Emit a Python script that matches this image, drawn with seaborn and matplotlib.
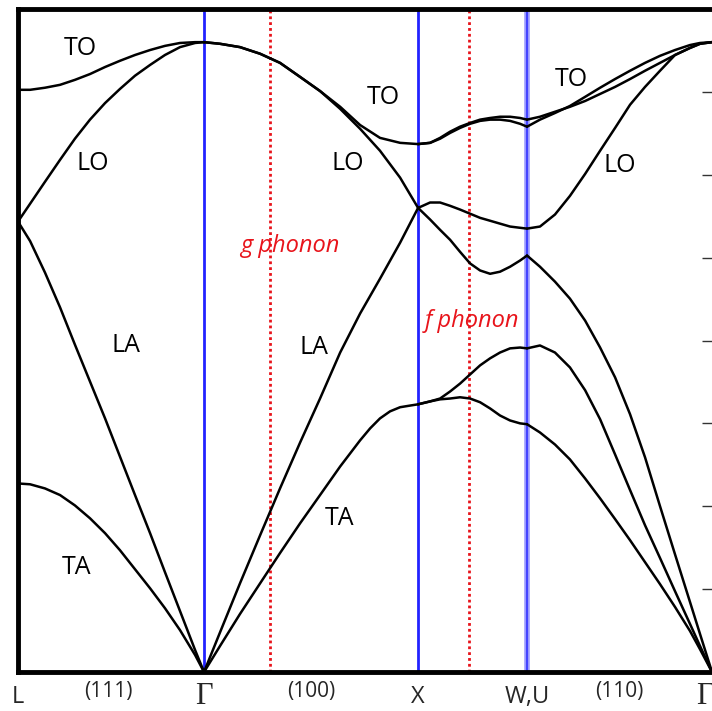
import numpy as np
import pandas as pd
import seaborn as sns
import matplotlib.pyplot as plt
import matplotlib.transforms as mtransforms

sns.set_theme(style="white")
plt.rcParams["font.family"] = ["Open Sans", "DejaVu Sans"]

# High-symmetry path of the diamond lattice and relative segment lengths
sym_points = ["L", "Γ", "X", "W,U", "Γ"]
direction_labels = ["(111)", "(100)", "(110)"]
seg_len = [0.869, 1.0, 0.509, 0.864]

# ---- L -> Γ : fraction along the segment and branch frequencies (THz) ----
t_LG = [0, 0.065, 0.145, 0.226, 0.306, 0.387, 0.468, 0.548, 0.629, 0.710,
        0.790, 0.871, 0.952, 1]
TO_LG = [14.05, 14.05, 14.10, 14.17, 14.29, 14.43, 14.60, 14.75, 14.89, 15.01,
         15.11, 15.18, 15.20, 15.20]
LO_LG = [10.87, 11.30, 11.83, 12.36, 12.87, 13.33, 13.73, 14.07, 14.39, 14.65,
         14.89, 15.08, 15.18, 15.20]
LA_LG = [10.87, 10.40, 9.64, 8.80, 7.90, 7.01, 6.12, 5.20, 4.27, 3.35,
         2.41, 1.47, 0.53, 0]
TA_LG = [4.55, 4.53, 4.43, 4.27, 4.02, 3.71, 3.35, 2.94, 2.48, 2.02,
         1.54, 1.01, 0.41, 0]

# ---- Γ -> X ----
t_GX = [0, 0.075, 0.168, 0.262, 0.355, 0.449, 0.542, 0.636, 0.729, 0.822,
        0.916, 1]
TO_GX = [15.20, 15.16, 15.08, 14.92, 14.70, 14.36, 14.02, 13.64, 13.20, 12.89,
         12.77, 12.74]
LO_GX = [15.20, 15.16, 15.08, 14.92, 14.70, 14.36, 14.02, 13.59, 13.11, 12.58,
         11.93, 11.20]
LA_GX = [0, 0.96, 2.14, 3.30, 4.43, 5.54, 6.60, 7.71, 8.65, 9.49, 10.36, 11.20]
t_GX_TA = [0, 0.075, 0.168, 0.262, 0.355, 0.449, 0.542, 0.636, 0.729, 0.776,
           0.822, 0.869, 0.916, 0.963, 1]
TA_GX = [0, 0.63, 1.40, 2.14, 2.87, 3.59, 4.27, 4.96, 5.59, 5.88,
         6.12, 6.29, 6.39, 6.43, 6.46]

# ---- X -> W ----
t_XW = [0, 0.110, 0.202, 0.294, 0.385, 0.477, 0.569, 0.661, 0.752, 0.844,
        0.936, 1]
TO1_XW = [12.74, 12.77, 12.89, 13.04, 13.16, 13.25, 13.33, 13.37, 13.40, 13.40,
          13.37, 13.33]
TO2_XW = [12.74, 12.77, 12.87, 13.01, 13.13, 13.23, 13.30, 13.33, 13.33, 13.30,
          13.23, 13.16]
LO_XW = [11.20, 11.33, 11.33, 11.25, 11.16, 11.06, 10.96, 10.89, 10.82, 10.75,
         10.72, 10.70]
LA_XW = [11.20, 10.92, 10.67, 10.43, 10.14, 9.86, 9.69, 9.61, 9.66, 9.78,
         9.93, 10.05]
TA1_XW = [6.46, 6.53, 6.60, 6.77, 6.96, 7.18, 7.40, 7.57, 7.71, 7.81,
          7.83, 7.81]
TA2_XW = [6.46, 6.53, 6.58, 6.60, 6.63, 6.60, 6.51, 6.36, 6.19, 6.07,
          6.00, 5.98]

# ---- W -> Γ ----
t_WG = [0, 0.070, 0.151, 0.232, 0.314, 0.395, 0.476, 0.557, 0.638, 0.719,
        0.800, 0.881, 0.935, 1]
TO1_WG = [13.33, 13.40, 13.52, 13.64, 13.78, 13.95, 14.12, 14.31, 14.51, 14.70,
          14.89, 15.06, 15.16, 15.20]
TO2_WG = [13.16, 13.33, 13.49, 13.66, 13.88, 14.10, 14.31, 14.51, 14.70, 14.87,
          15.01, 15.13, 15.18, 15.20]
LO_WG = [10.70, 10.75, 11.04, 11.49, 12.02, 12.58, 13.13, 13.69, 14.12, 14.51,
         14.89, 15.06, 15.16, 15.20]
LA_WG = [10.05, 9.78, 9.42, 9.01, 8.48, 7.83, 7.11, 6.22, 5.18, 4.00,
         2.84, 1.69, 0.92, 0]
TA1_WG = [7.81, 7.88, 7.71, 7.35, 6.80, 6.10, 5.25, 4.39, 3.54, 2.75,
          1.95, 1.16, 0.63, 0]
TA2_WG = [5.98, 5.78, 5.49, 5.13, 4.67, 4.19, 3.69, 3.18, 2.65, 2.12,
          1.57, 0.99, 0.55, 0]

# (segment index, branch name, fractions, frequencies)
branches = [
    (0, "TO", t_LG, TO_LG), (0, "LO", t_LG, LO_LG),
    (0, "LA", t_LG, LA_LG), (0, "TA", t_LG, TA_LG),
    (1, "TO", t_GX, TO_GX), (1, "LO", t_GX, LO_GX),
    (1, "LA", t_GX, LA_GX), (1, "TA", t_GX_TA, TA_GX),
    (2, "TO1", t_XW, TO1_XW), (2, "TO2", t_XW, TO2_XW),
    (2, "LO", t_XW, LO_XW), (2, "LA", t_XW, LA_XW),
    (2, "TA1", t_XW, TA1_XW), (2, "TA2", t_XW, TA2_XW),
    (3, "TO1", t_WG, TO1_WG), (3, "TO2", t_WG, TO2_WG),
    (3, "LO", t_WG, LO_WG), (3, "LA", t_WG, LA_WG),
    (3, "TA1", t_WG, TA1_WG), (3, "TA2", t_WG, TA2_WG),
]

bounds = np.concatenate([[0.0], np.cumsum(seg_len)])

frames = []
for seg, name, t, f in branches:
    k = bounds[seg] + np.asarray(t) * seg_len[seg]
    frames.append(pd.DataFrame({"k": k, "freq": f, "branch": f"{seg}-{name}"}))
df = pd.concat(frames, ignore_index=True)

fig = plt.figure(figsize=(7.12, 7.11), dpi=100)
ax = fig.add_axes([18 / 712, 39 / 711, 1 - 18 / 712, 663 / 711])

# high-symmetry point markers
ax.axvline(bounds[1], color="#2222ff", lw=2.0, zorder=1)
ax.axvline(bounds[2], color="#2222ff", lw=2.0, zorder=1)
ax.axvline(bounds[3], color="#9a9aff", lw=4.0, zorder=1)
ax.axvline(bounds[3], color="#3333ff", lw=1.2, zorder=1)

# umklapp phonon positions
g_pos = bounds[1] + 0.308 * seg_len[1]
f_pos = bounds[2] + 0.468 * seg_len[2]
for xp in (g_pos, f_pos):
    ax.axvline(xp, color="#e8141b", lw=2.0, linestyle=(0, (1, 1.1)), zorder=1)

sns.lineplot(data=df, x="k", y="freq", units="branch", estimator=None,
             sort=False, color="black", lw=1.8, ax=ax, legend=False, zorder=3)

ax.set_xlim(0, bounds[-1])
ax.set_ylim(0, 16)
ax.set_xlabel("")
ax.set_ylabel("")
ax.set_xticks([])
ax.yaxis.tick_right()
ax.set_yticks(np.arange(0, 17, 2))
ax.tick_params(axis="y", direction="in", length=7, width=1.0, colors="#333333",
               labelright=False, right=True, left=False)
for side in ("left", "top", "bottom"):
    ax.spines[side].set_visible(True)
    ax.spines[side].set_color("black")
    ax.spines[side].set_linewidth(3.5)
ax.spines["right"].set_visible(False)

# branch names
branch_labels = ["TO", "LO", "LA", "TA", "TO", "LO", "LA", "TA", "TO", "LO"]
branch_label_xy = [(0.290, 15.04), (0.350, 12.27), (0.505, 7.88), (0.271, 2.53),
                   (1.706, 13.86), (1.542, 12.27), (1.383, 7.83), (1.500, 3.71),
                   (2.584, 14.31), (2.813, 12.22)]
for lab, (xk, yf) in zip(branch_labels, branch_label_xy):
    ax.text(xk, yf, lab, ha="center", va="center", fontsize=18, color="black")

ax.text(1.271, 10.29, "g phonon", ha="center", va="center", fontsize=17,
        color="#e8141b", style="italic")
ax.text(2.121, 8.48, "f phonon", ha="center", va="center", fontsize=17,
        color="#e8141b", style="italic")

# path labels under the axis
trans = mtransforms.blended_transform_factory(ax.transData, ax.transAxes)
sym_x = list(bounds)
sym_x[-1] = bounds[-1] - 0.035
for lab, xk in zip(sym_points, sym_x):
    if lab == "Γ":
        ax.text(xk, -0.037, lab, transform=trans, ha="center", va="center",
                fontsize=22, family=["Liberation Serif", "DejaVu Serif"])
    else:
        ax.text(xk, -0.037, lab, transform=trans, ha="center", va="center",
                fontsize=17)
dir_x = [(bounds[0] + bounds[1]) / 2 - 0.01, (bounds[1] + bounds[2]) / 2,
         (bounds[3] + bounds[4]) / 2]
for lab, xk in zip(direction_labels, dir_x):
    ax.text(xk, -0.030, lab, transform=trans, ha="center", va="center",
            fontsize=15)

fig.savefig("out.png", dpi=100)
